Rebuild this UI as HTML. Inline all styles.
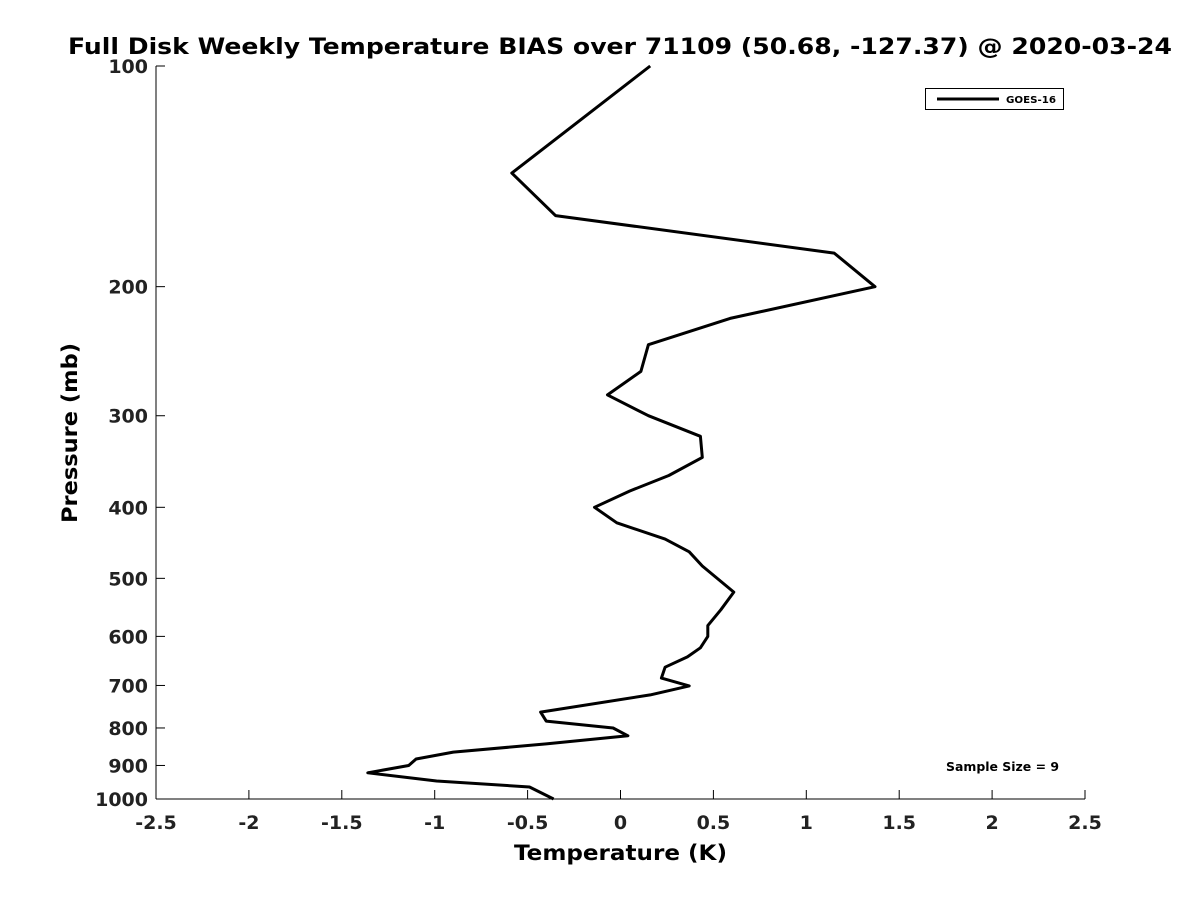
<!DOCTYPE html>
<html><head><meta charset="utf-8"><style>
body{margin:0;background:#fff;}
svg{display:block;font-family:"DejaVu Sans","Liberation Sans",sans-serif;}
</style></head><body>
<svg id="chart" width="1200" height="900" viewBox="0 0 1200 900">
<rect width="1200" height="900" fill="#fff"/>
<text x="68" y="54" font-size="22" font-weight="bold" textLength="1104" lengthAdjust="spacingAndGlyphs">Full Disk Weekly Temperature BIAS over 71109 (50.68, -127.37) @ 2020-03-24</text>
<g id="axes"></g>
<polyline id="line" fill="none" stroke="#000" stroke-width="3" stroke-linejoin="round"/>
<g>
<rect x="925.5" y="88.5" width="138" height="21" fill="#fff" stroke="#000" stroke-width="1"/>
<line x1="937" y1="99" x2="999" y2="99" stroke="#000" stroke-width="3"/>
<text x="1006" y="103" font-size="10" font-weight="bold" textLength="50" lengthAdjust="spacingAndGlyphs">GOES-16</text>
</g>
<text x="946" y="771" font-size="12" font-weight="bold" textLength="113" lengthAdjust="spacingAndGlyphs">Sample Size = 9</text>
<text x="514" y="860" font-size="21" font-weight="bold" textLength="213" lengthAdjust="spacingAndGlyphs">Temperature (K)</text>
<text transform="translate(77,523) rotate(-90)" font-size="21" font-weight="bold" textLength="180" lengthAdjust="spacingAndGlyphs">Pressure (mb)</text>
</svg>
<script>
const xTicks=[-2.5,-2,-1.5,-1,-0.5,0,0.5,1,1.5,2,2.5];
const yTicks=[100,200,300,400,500,600,700,800,900,1000];
const pressures=[100,140,160,180,200,221,240,261,281,300,320,342,362,380,400,420,442,460,481,522,552,580,600,622,640,661,684,701,721,761,783,800,820,841,863,882,900,921,945,963,1000];
const temps=[0.16,-0.585,-0.35,1.15,1.37,0.59,0.15,0.11,-0.07,0.15,0.43,0.44,0.26,0.05,-0.14,-0.02,0.24,0.37,0.44,0.61,0.54,0.47,0.47,0.43,0.36,0.24,0.22,0.37,0.16,-0.43,-0.40,-0.04,0.04,-0.40,-0.90,-1.10,-1.14,-1.36,-0.99,-0.49,-0.36];
const X0=156,X1=1085,Y0=66,Y1=799;
function xs(v){return X0+(v+2.5)/5*(X1-X0);}
function ys(p){return Y0+(Math.log10(p)-2)*(Y1-Y0);}
const NS="http://www.w3.org/2000/svg";
const ax=document.getElementById('axes');
function mk(t,a){const e=document.createElementNS(NS,t);for(const k in a)e.setAttribute(k,a[k]);ax.appendChild(e);return e;}
let l=mk('line',{x1:X0,y1:Y1,x2:X1,y2:Y1,stroke:'#000','stroke-width':1});


l=mk('line',{x1:X0,y1:Y0,x2:X0,y2:Y1,stroke:'#000','stroke-width':1});


xTicks.forEach(v=>{const x=xs(v);
 mk('line',{x1:x,y1:Y1,x2:x,y2:Y1-9,stroke:'#000'});
 const t=mk('text',{x:x,y:Y1+30,'text-anchor':'middle','font-size':19,'font-weight':'bold',fill:'#222'});
 t.textContent=String(v);
 
 });
yTicks.forEach(p=>{const y=ys(p);
 mk('line',{x1:X0,y1:y,x2:X0+9,y2:y,stroke:'#000'});
 const t=mk('text',{x:X0-8,y:y+7,'text-anchor':'end','font-size':19,'font-weight':'bold',fill:'#222'});
 t.textContent=String(p);
 
 });
document.getElementById('line').setAttribute('points',pressures.map((p,i)=>xs(temps[i]).toFixed(1)+','+ys(p).toFixed(1)).join(' '));
</script>
</body></html>
